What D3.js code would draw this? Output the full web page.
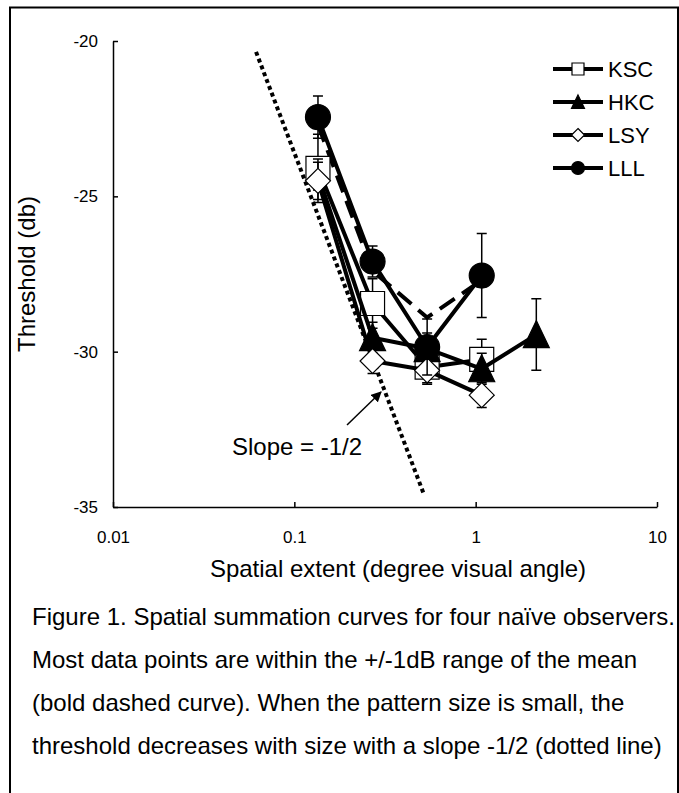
<!DOCTYPE html>
<html lang="en">
<head>
    <meta charset="UTF-8">
    <title>Spatial summation</title>
    <script src="https://cdn.jsdelivr.net/npm/d3@7"></script>
    <style>
        body {
            margin: 0;
            background: #fff;
        }

        svg {
            display: block;
            font-family: "Liberation Sans", Arial, sans-serif;
        }

        .axis path, .axis line {
            stroke: #000;
            stroke-width: 1.5px;
        }

        .axis text {
            font-size: 17px;
            fill: #000;
        }

        .series {
            fill: none;
            stroke: #000;
            stroke-width: 4px;
        }

        .err {
            fill: none;
            stroke: #000;
            stroke-width: 1.5px;
        }
    </style>
</head>
<body>
<svg width="679" height="793"></svg>

<script>

    // spatial extent (deg)
    var sizes = [0.135, 0.27, 0.54, 1.08, 2.16];

    var names = ['KSC', 'HKC', 'LSY', 'LLL'];

    // thresholds (dB) per observer
    var ksc = [-24.1, -28.45, -30.5, -30.25];
    var hkc = [-24.3, -29.55, -29.9, -30.55, -29.45];
    var lsy = [-24.5, -30.3, -30.6, -31.4];
    var lll = [-22.45, -27.1, -29.85, -27.55];

    // standard errors (dB)
    var kscErr = [1.1, 0.8, 0.55, 0.65];
    var hkcErr = [0.5, 0.5, 0.5, 0.5, 1.15];
    var lsyErr = [0.6, 0.4, 0.4, 0.4];
    var lllErr = [0.68, 0.5, 0.9, 1.35];

    // bold dashed curve
    var meanSizes = [0.135, 0.27, 0.54, 1.08];
    var mean = [-22.7, -27.4, -28.9, -27.7];

    // dotted slope -1/2 line
    var slopeSizes = [0.0615, 0.519];
    var slopeVals = [-20.35, -34.6];

    var xTicks = [0.01, 0.1, 1, 10];
    var yTicks = [-35, -30, -25, -20];

    var caption = [
        'Figure 1. Spatial summation curves for four naïve observers.',
        'Most data points are within the +/-1dB range of the mean',
        '(bold dashed curve). When the pattern size is small, the',
        'threshold decreases with size with a slope -1/2 (dotted line)'
    ];

    var svg = d3.select('svg');

    var x = d3.scaleLog().domain([0.01, 10]).range([113, 657]);
    var y = d3.scaleLinear().domain([-35, -20]).range([507, 41]);

    // frame round the figure
    svg.append('path')
        .attr('d', 'M10,793V7.5H678V793')
        .attr('fill', 'none')
        .attr('stroke', '#000')
        .attr('stroke-width', 2);

    svg.append('g')
        .attr('class', 'axis')
        .attr('transform', 'translate(0,507)')
        .call(d3.axisBottom(x).tickValues(xTicks)
            .tickFormat(function (d) { return String(d); })
            .tickSizeInner(-5).tickSizeOuter(0).tickPadding(24));

    svg.append('g')
        .attr('class', 'axis')
        .attr('transform', 'translate(113,0)')
        .call(d3.axisLeft(y).tickValues(yTicks)
            .tickFormat(function (d) { return String(d); })
            .tickSizeInner(-5).tickSizeOuter(0).tickPadding(15));

    svg.append('text')
        .attr('x', 398)
        .attr('y', 577)
        .attr('text-anchor', 'middle')
        .attr('font-size', 24)
        .text('Spatial extent (degree visual angle)');

    svg.append('text')
        .attr('transform', 'translate(35,274) rotate(-90)')
        .attr('text-anchor', 'middle')
        .attr('font-size', 24)
        .text('Threshold (db)');

    // dotted slope line
    svg.append('line')
        .attr('x1', x(slopeSizes[0]))
        .attr('y1', y(slopeVals[0]))
        .attr('x2', x(slopeSizes[1]))
        .attr('y2', y(slopeVals[1]))
        .attr('stroke', '#000')
        .attr('stroke-width', 4)
        .attr('stroke-dasharray', '4,3.3');

    var line = d3.line()
        .x(function (d) { return x(d.x); })
        .y(function (d) { return y(d.y); });

    // dashed curve
    svg.append('path')
        .datum(meanSizes.map(function (s, i) { return {x: s, y: mean[i]}; }))
        .attr('class', 'series')
        .attr('stroke-dasharray', '18,9')
        .attr('d', line);

    function square(h) {
        return 'M' + (-h) + ',' + (-h) + 'H' + h + 'V' + h + 'H' + (-h) + 'Z';
    }

    function triangle(h) {
        return 'M0,' + (-h * 1.08) + 'L' + h + ',' + h + 'H' + (-h) + 'Z';
    }

    function diamond(h) {
        return 'M0,' + (-h) + 'L' + h + ',0L0,' + h + 'L' + (-h) + ',0Z';
    }

    function circle(h) {
        var p = d3.path();
        p.arc(0, 0, h, 0, 2 * Math.PI);
        p.closePath();
        return p.toString();
    }

    var series = [
        {name: names[0], vals: ksc, err: kscErr, shape: square, big: 12, small: 6, fill: '#fff', skip: []},
        {name: names[1], vals: hkc, err: hkcErr, shape: triangle, big: 13, small: 6.5, fill: '#000', skip: [0]},
        {name: names[2], vals: lsy, err: lsyErr, shape: diamond, big: 12.5, small: 6.5, fill: '#fff', skip: []},
        {name: names[3], vals: lll, err: lllErr, shape: circle, big: 12.5, small: 6.5, fill: '#000', skip: []}
    ];

    series.forEach(function (s) {
        var pts = s.vals.map(function (v, i) {
            return {x: sizes[i], y: v, e: s.err[i], i: i};
        });
        var g = svg.append('g');

        g.selectAll('.err')
            .data(pts)
            .enter()
            .append('path')
            .attr('class', 'err')
            .attr('d', function (d) {
                var cx = x(d.x), t = y(d.y + d.e), b = y(d.y - d.e);
                return 'M' + (cx - 5) + ',' + t + 'H' + (cx + 5) +
                    'M' + cx + ',' + t + 'V' + b +
                    'M' + (cx - 5) + ',' + b + 'H' + (cx + 5);
            });

        g.append('path')
            .datum(pts)
            .attr('class', 'series')
            .attr('stroke-linejoin', 'round')
            .attr('d', line);

        g.selectAll('.mark')
            .data(pts.filter(function (d) { return s.skip.indexOf(d.i) < 0; }))
            .enter()
            .append('path')
            .attr('class', 'mark')
            .attr('transform', function (d) {
                return 'translate(' + x(d.x) + ',' + y(d.y) + ')';
            })
            .attr('d', s.shape(s.big))
            .attr('fill', s.fill)
            .attr('stroke', '#000')
            .attr('stroke-width', 1.2);
    });

    // legend
    var legend = svg.selectAll('.legend')
        .data(series)
        .enter()
        .append('g')
        .attr('class', 'legend')
        .attr('transform', function (d, i) {
            return 'translate(553,' + (69 + i * 33) + ')';
        });

    legend.append('line')
        .attr('x1', 0)
        .attr('x2', 50)
        .attr('stroke', '#000')
        .attr('stroke-width', 4);

    legend.append('path')
        .attr('transform', 'translate(25,0)')
        .attr('d', function (d) { return d.shape(d.small); })
        .attr('fill', function (d) { return d.fill; })
        .attr('stroke', '#000')
        .attr('stroke-width', 1.2);

    legend.append('text')
        .attr('x', 55)
        .attr('y', 8)
        .attr('font-size', 22)
        .text(function (d) { return d.name; });

    // slope annotation
    svg.append('defs').append('marker')
        .attr('id', 'head')
        .attr('viewBox', '0 0 10 10')
        .attr('refX', 9)
        .attr('refY', 5)
        .attr('markerWidth', 7)
        .attr('markerHeight', 7)
        .attr('orient', 'auto')
        .append('path')
        .attr('d', 'M0,0L10,5L0,10Z');

    svg.append('line')
        .attr('x1', 347)
        .attr('y1', 425)
        .attr('x2', 381)
        .attr('y2', 392)
        .attr('stroke', '#000')
        .attr('stroke-width', 1.5)
        .attr('marker-end', 'url(#head)');

    svg.append('text')
        .attr('x', 232)
        .attr('y', 455)
        .attr('font-size', 24)
        .text('Slope = -1/2');

    svg.selectAll('.caption')
        .data(caption)
        .enter()
        .append('text')
        .attr('class', 'caption')
        .attr('x', 32)
        .attr('y', function (d, i) { return 625 + i * 43; })
        .attr('font-size', 24)
        .text(function (d) { return d; });

</script>

</body>
</html>
